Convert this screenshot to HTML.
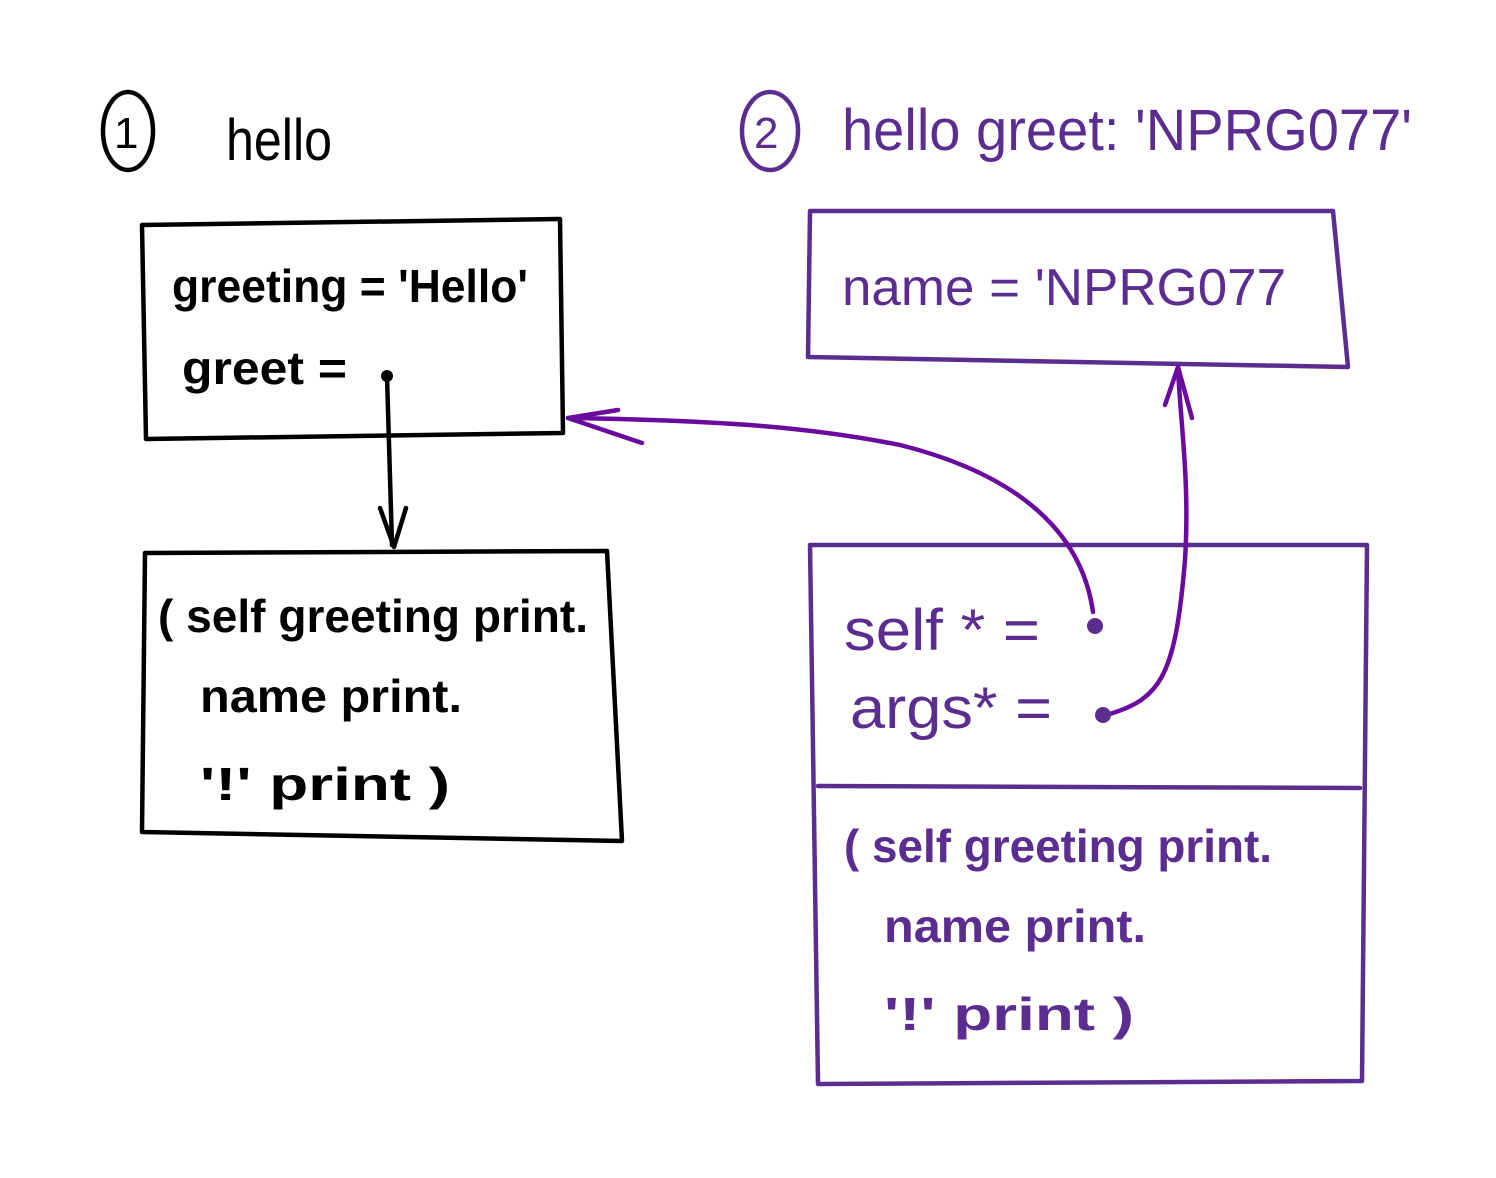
<!DOCTYPE html>
<html><head><meta charset="utf-8"><style>html,body{margin:0;padding:0;background:#fff}svg{display:block}</style></head>
<body>
<svg width="1496" height="1178" viewBox="0 0 1496 1178" xmlns="http://www.w3.org/2000/svg" font-family="'Liberation Sans', sans-serif">
<g fill="none" stroke-linecap="round" stroke-linejoin="round">
 <g stroke="#000" stroke-width="4.5">
  <ellipse cx="128" cy="131" rx="25" ry="39"/>
  <path d="M142 225 L560 219 L563 433 L146 439 Z"/>
  <path d="M145 553 L607 551 L622 841 L142 832 Z"/>
  <path d="M387 376 L392 545"/>
  <path d="M380 508 L394 547 L406 508"/>
 </g>
 <g stroke="#5c2d91" stroke-width="4.5">
  <ellipse cx="770" cy="131" rx="28" ry="39"/>
  <path d="M810 211 L1333 211 L1348 367 L808 357 Z"/>
  <path d="M810 545 L1367 545 L1362 1081 L818 1084 Z"/>
  <path d="M818 786 L1360 788"/>
 </g>
 <g stroke="#6a0a9e" stroke-width="4.5">
  <path d="M1093 612 C1080 520 1000 470 900 445 C800 425 700 420 568 418"/>
  <path d="M618 410 L568 418 L642 443"/>
  <path d="M1103 716 C1160 700 1175 680 1185 560 C1190 480 1180 420 1178 367"/>
  <path d="M1165 405 L1178 367 L1192 418"/>
 </g>
</g>
<g fill="#000"><circle cx="387" cy="376" r="6"/></g>
<g fill="#5c2d91"><circle cx="1095" cy="626" r="8"/><circle cx="1103" cy="715" r="8"/></g>
<g font-size="46" fill="#000" font-weight="bold">
 <text x="114" y="148" font-size="44" font-weight="normal">1</text>
 <text x="226" y="160" font-size="58" font-weight="normal" textLength="106" lengthAdjust="spacingAndGlyphs">hello</text>
 <text x="172" y="302" textLength="356" lengthAdjust="spacingAndGlyphs">greeting = 'Hello'</text>
 <text x="182" y="384" textLength="165" lengthAdjust="spacingAndGlyphs">greet =</text>
 <text x="158" y="632" textLength="430" lengthAdjust="spacingAndGlyphs">( self greeting print.</text>
 <text x="200" y="712" textLength="262" lengthAdjust="spacingAndGlyphs">name print.</text>
 <text x="200" y="800" textLength="250" lengthAdjust="spacingAndGlyphs">'!' print )</text>
</g>
<g font-size="46" fill="#5c2d91" font-weight="bold">
 <text x="754" y="148" font-size="44" font-weight="normal">2</text>
 <text x="842" y="150" font-size="58" font-weight="normal" textLength="570" lengthAdjust="spacingAndGlyphs">hello greet: 'NPRG077'</text>
 <text x="842" y="305" font-size="52" font-weight="normal" textLength="444" lengthAdjust="spacingAndGlyphs">name = 'NPRG077</text>
 <text x="844" y="650" font-size="58" font-weight="normal" textLength="196" lengthAdjust="spacingAndGlyphs">self * =</text>
 <text x="850" y="728" font-size="58" font-weight="normal" textLength="202" lengthAdjust="spacingAndGlyphs">args* =</text>
 <text x="844" y="862" textLength="428" lengthAdjust="spacingAndGlyphs">( self greeting print.</text>
 <text x="884" y="942" textLength="262" lengthAdjust="spacingAndGlyphs">name print.</text>
 <text x="884" y="1030" textLength="250" lengthAdjust="spacingAndGlyphs">'!' print )</text>
</g>
</svg>
</body></html>
